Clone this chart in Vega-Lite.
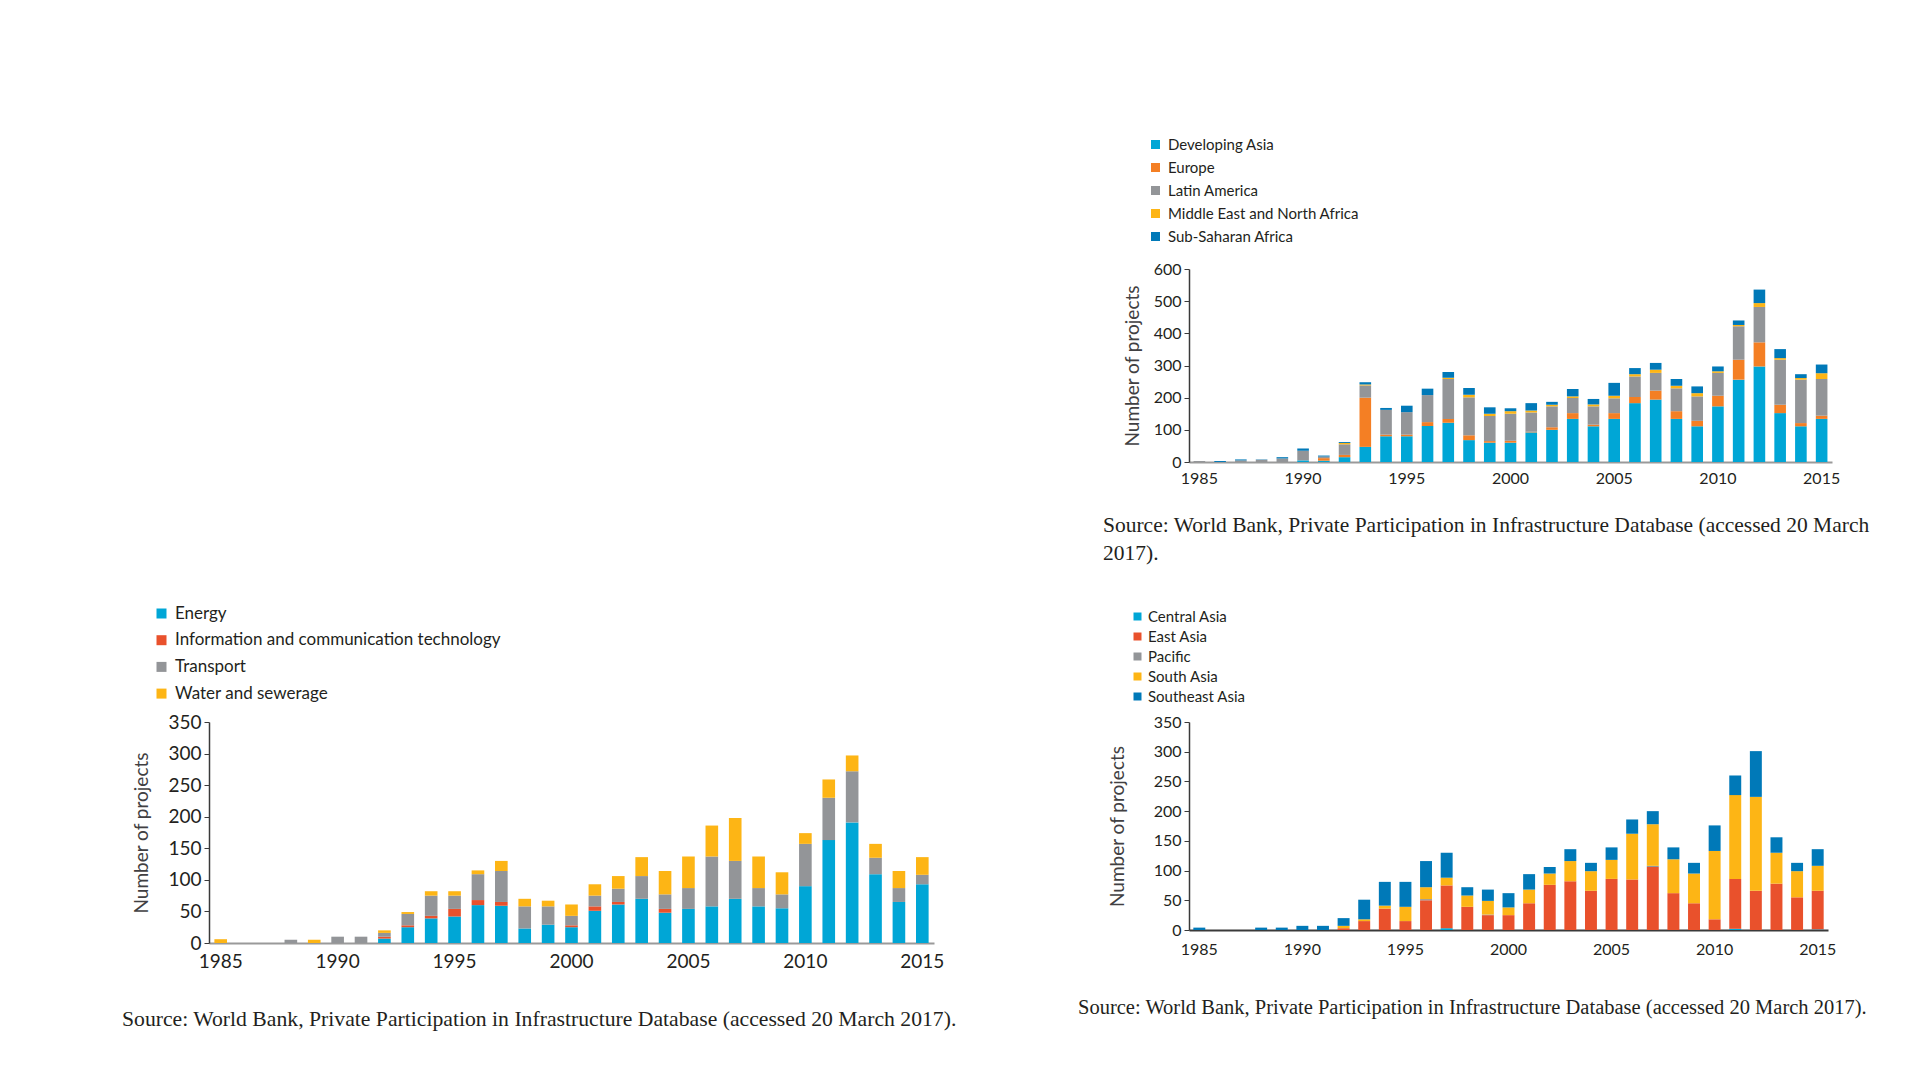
{
"$schema": "https://vega.github.io/schema/vega-lite/v6.json",
"background": "white",
"padding": {"left": 122, "top": 137, "right": 10, "bottom": 10},
"datasets": {
"region": [
{"year":1985,"region":"Latin America","projects":3},
{"year":1986,"region":"Sub-Saharan Africa","projects":3},
{"year":1987,"region":"Latin America","projects":5},{"year":1987,"region":"Sub-Saharan Africa","projects":3},
{"year":1988,"region":"Latin America","projects":7},{"year":1988,"region":"Sub-Saharan Africa","projects":1},
{"year":1989,"region":"Latin America","projects":11},{"year":1989,"region":"Sub-Saharan Africa","projects":4},
{"year":1990,"region":"Developing Asia","projects":5},{"year":1990,"region":"Latin America","projects":30},{"year":1990,"region":"Sub-Saharan Africa","projects":7},
{"year":1991,"region":"Developing Asia","projects":4},{"year":1991,"region":"Europe","projects":8},{"year":1991,"region":"Latin America","projects":5},{"year":1991,"region":"Sub-Saharan Africa","projects":3},
{"year":1992,"region":"Developing Asia","projects":15},{"year":1992,"region":"Europe","projects":7},{"year":1992,"region":"Latin America","projects":33},{"year":1992,"region":"Middle East and North Africa","projects":4},{"year":1992,"region":"Sub-Saharan Africa","projects":3},
{"year":1993,"region":"Developing Asia","projects":47},{"year":1993,"region":"Europe","projects":153},{"year":1993,"region":"Latin America","projects":38},{"year":1993,"region":"Middle East and North Africa","projects":3},{"year":1993,"region":"Sub-Saharan Africa","projects":7},
{"year":1994,"region":"Developing Asia","projects":80},{"year":1994,"region":"Europe","projects":5},{"year":1994,"region":"Latin America","projects":77},{"year":1994,"region":"Sub-Saharan Africa","projects":6},
{"year":1995,"region":"Developing Asia","projects":80},{"year":1995,"region":"Europe","projects":5},{"year":1995,"region":"Latin America","projects":70},{"year":1995,"region":"Sub-Saharan Africa","projects":20},
{"year":1996,"region":"Developing Asia","projects":112},{"year":1996,"region":"Europe","projects":12},{"year":1996,"region":"Latin America","projects":84},{"year":1996,"region":"Sub-Saharan Africa","projects":20},
{"year":1997,"region":"Developing Asia","projects":122},{"year":1997,"region":"Europe","projects":12},{"year":1997,"region":"Latin America","projects":124},{"year":1997,"region":"Middle East and North Africa","projects":4},{"year":1997,"region":"Sub-Saharan Africa","projects":18},
{"year":1998,"region":"Developing Asia","projects":68},{"year":1998,"region":"Europe","projects":15},{"year":1998,"region":"Latin America","projects":118},{"year":1998,"region":"Middle East and North Africa","projects":8},{"year":1998,"region":"Sub-Saharan Africa","projects":21},
{"year":1999,"region":"Developing Asia","projects":60},{"year":1999,"region":"Europe","projects":5},{"year":1999,"region":"Latin America","projects":78},{"year":1999,"region":"Middle East and North Africa","projects":7},{"year":1999,"region":"Sub-Saharan Africa","projects":20},
{"year":2000,"region":"Developing Asia","projects":60},{"year":2000,"region":"Europe","projects":6},{"year":2000,"region":"Latin America","projects":84},{"year":2000,"region":"Middle East and North Africa","projects":8},{"year":2000,"region":"Sub-Saharan Africa","projects":9},
{"year":2001,"region":"Developing Asia","projects":92},{"year":2001,"region":"Europe","projects":2},{"year":2001,"region":"Latin America","projects":60},{"year":2001,"region":"Middle East and North Africa","projects":6},{"year":2001,"region":"Sub-Saharan Africa","projects":23},
{"year":2002,"region":"Developing Asia","projects":100},{"year":2002,"region":"Europe","projects":8},{"year":2002,"region":"Latin America","projects":65},{"year":2002,"region":"Middle East and North Africa","projects":5},{"year":2002,"region":"Sub-Saharan Africa","projects":9},
{"year":2003,"region":"Developing Asia","projects":134},{"year":2003,"region":"Europe","projects":18},{"year":2003,"region":"Latin America","projects":47},{"year":2003,"region":"Middle East and North Africa","projects":5},{"year":2003,"region":"Sub-Saharan Africa","projects":23},
{"year":2004,"region":"Developing Asia","projects":111},{"year":2004,"region":"Europe","projects":5},{"year":2004,"region":"Latin America","projects":57},{"year":2004,"region":"Middle East and North Africa","projects":6},{"year":2004,"region":"Sub-Saharan Africa","projects":17},
{"year":2005,"region":"Developing Asia","projects":134},{"year":2005,"region":"Europe","projects":18},{"year":2005,"region":"Latin America","projects":46},{"year":2005,"region":"Middle East and North Africa","projects":8},{"year":2005,"region":"Sub-Saharan Africa","projects":40},
{"year":2006,"region":"Developing Asia","projects":183},{"year":2006,"region":"Europe","projects":19},{"year":2006,"region":"Latin America","projects":64},{"year":2006,"region":"Middle East and North Africa","projects":7},{"year":2006,"region":"Sub-Saharan Africa","projects":19},
{"year":2007,"region":"Developing Asia","projects":194},{"year":2007,"region":"Europe","projects":28},{"year":2007,"region":"Latin America","projects":55},{"year":2007,"region":"Middle East and North Africa","projects":10},{"year":2007,"region":"Sub-Saharan Africa","projects":21},
{"year":2008,"region":"Developing Asia","projects":134},{"year":2008,"region":"Europe","projects":24},{"year":2008,"region":"Latin America","projects":71},{"year":2008,"region":"Middle East and North Africa","projects":8},{"year":2008,"region":"Sub-Saharan Africa","projects":21},
{"year":2009,"region":"Developing Asia","projects":111},{"year":2009,"region":"Europe","projects":17},{"year":2009,"region":"Latin America","projects":76},{"year":2009,"region":"Middle East and North Africa","projects":10},{"year":2009,"region":"Sub-Saharan Africa","projects":21},
{"year":2010,"region":"Developing Asia","projects":173},{"year":2010,"region":"Europe","projects":33},{"year":2010,"region":"Latin America","projects":71},{"year":2010,"region":"Middle East and North Africa","projects":5},{"year":2010,"region":"Sub-Saharan Africa","projects":15},
{"year":2011,"region":"Developing Asia","projects":256},{"year":2011,"region":"Europe","projects":62},{"year":2011,"region":"Latin America","projects":104},{"year":2011,"region":"Middle East and North Africa","projects":4},{"year":2011,"region":"Sub-Saharan Africa","projects":14},
{"year":2012,"region":"Developing Asia","projects":297},{"year":2012,"region":"Europe","projects":75},{"year":2012,"region":"Latin America","projects":110},{"year":2012,"region":"Middle East and North Africa","projects":12},{"year":2012,"region":"Sub-Saharan Africa","projects":42},
{"year":2013,"region":"Developing Asia","projects":152},{"year":2013,"region":"Europe","projects":26},{"year":2013,"region":"Latin America","projects":140},{"year":2013,"region":"Middle East and North Africa","projects":5},{"year":2013,"region":"Sub-Saharan Africa","projects":28},
{"year":2014,"region":"Developing Asia","projects":111},{"year":2014,"region":"Europe","projects":10},{"year":2014,"region":"Latin America","projects":135},{"year":2014,"region":"Middle East and North Africa","projects":5},{"year":2014,"region":"Sub-Saharan Africa","projects":12},
{"year":2015,"region":"Developing Asia","projects":134},{"year":2015,"region":"Europe","projects":10},{"year":2015,"region":"Latin America","projects":114},{"year":2015,"region":"Middle East and North Africa","projects":18},{"year":2015,"region":"Sub-Saharan Africa","projects":27}
],
"sector": [
{"year":1985,"sector":"Water and sewerage","projects":6},
{"year":1988,"sector":"Transport","projects":5},
{"year":1989,"sector":"Water and sewerage","projects":5},
{"year":1990,"sector":"Transport","projects":10},
{"year":1991,"sector":"Transport","projects":10},
{"year":1992,"sector":"Energy","projects":7},{"year":1992,"sector":"Information and communication technology","projects":3},{"year":1992,"sector":"Transport","projects":6},{"year":1992,"sector":"Water and sewerage","projects":4},
{"year":1993,"sector":"Energy","projects":25},{"year":1993,"sector":"Information and communication technology","projects":3},{"year":1993,"sector":"Transport","projects":18},{"year":1993,"sector":"Water and sewerage","projects":3},
{"year":1994,"sector":"Energy","projects":39},{"year":1994,"sector":"Information and communication technology","projects":4},{"year":1994,"sector":"Transport","projects":32},{"year":1994,"sector":"Water and sewerage","projects":7},
{"year":1995,"sector":"Energy","projects":42},{"year":1995,"sector":"Information and communication technology","projects":12},{"year":1995,"sector":"Transport","projects":21},{"year":1995,"sector":"Water and sewerage","projects":7},
{"year":1996,"sector":"Energy","projects":60},{"year":1996,"sector":"Information and communication technology","projects":8},{"year":1996,"sector":"Transport","projects":41},{"year":1996,"sector":"Water and sewerage","projects":6},
{"year":1997,"sector":"Energy","projects":59},{"year":1997,"sector":"Information and communication technology","projects":6},{"year":1997,"sector":"Transport","projects":49},{"year":1997,"sector":"Water and sewerage","projects":16},
{"year":1998,"sector":"Energy","projects":23},{"year":1998,"sector":"Transport","projects":35},{"year":1998,"sector":"Water and sewerage","projects":12},
{"year":1999,"sector":"Energy","projects":29},{"year":1999,"sector":"Transport","projects":29},{"year":1999,"sector":"Water and sewerage","projects":9},
{"year":2000,"sector":"Energy","projects":25},{"year":2000,"sector":"Information and communication technology","projects":3},{"year":2000,"sector":"Transport","projects":15},{"year":2000,"sector":"Water and sewerage","projects":18},
{"year":2001,"sector":"Energy","projects":51},{"year":2001,"sector":"Information and communication technology","projects":7},{"year":2001,"sector":"Transport","projects":17},{"year":2001,"sector":"Water and sewerage","projects":18},
{"year":2002,"sector":"Energy","projects":61},{"year":2002,"sector":"Information and communication technology","projects":4},{"year":2002,"sector":"Transport","projects":21},{"year":2002,"sector":"Water and sewerage","projects":20},
{"year":2003,"sector":"Energy","projects":70},{"year":2003,"sector":"Transport","projects":36},{"year":2003,"sector":"Water and sewerage","projects":30},
{"year":2004,"sector":"Energy","projects":48},{"year":2004,"sector":"Information and communication technology","projects":6},{"year":2004,"sector":"Transport","projects":23},{"year":2004,"sector":"Water and sewerage","projects":37},
{"year":2005,"sector":"Energy","projects":54},{"year":2005,"sector":"Transport","projects":33},{"year":2005,"sector":"Water and sewerage","projects":50},
{"year":2006,"sector":"Energy","projects":58},{"year":2006,"sector":"Transport","projects":79},{"year":2006,"sector":"Water and sewerage","projects":49},
{"year":2007,"sector":"Energy","projects":70},{"year":2007,"sector":"Transport","projects":60},{"year":2007,"sector":"Water and sewerage","projects":68},
{"year":2008,"sector":"Energy","projects":58},{"year":2008,"sector":"Transport","projects":29},{"year":2008,"sector":"Water and sewerage","projects":50},
{"year":2009,"sector":"Energy","projects":55},{"year":2009,"sector":"Transport","projects":22},{"year":2009,"sector":"Water and sewerage","projects":35},
{"year":2010,"sector":"Energy","projects":90},{"year":2010,"sector":"Transport","projects":67},{"year":2010,"sector":"Water and sewerage","projects":17},
{"year":2011,"sector":"Energy","projects":163},{"year":2011,"sector":"Transport","projects":67},{"year":2011,"sector":"Water and sewerage","projects":29},
{"year":2012,"sector":"Energy","projects":191},{"year":2012,"sector":"Transport","projects":81},{"year":2012,"sector":"Water and sewerage","projects":25},
{"year":2013,"sector":"Energy","projects":109},{"year":2013,"sector":"Transport","projects":26},{"year":2013,"sector":"Water and sewerage","projects":22},
{"year":2014,"sector":"Energy","projects":65},{"year":2014,"sector":"Transport","projects":22},{"year":2014,"sector":"Water and sewerage","projects":27},
{"year":2015,"sector":"Energy","projects":93},{"year":2015,"sector":"Transport","projects":15},{"year":2015,"sector":"Water and sewerage","projects":28}
],
"asia": [
{"year":1985,"subregion":"Southeast Asia","projects":4},
{"year":1988,"subregion":"Southeast Asia","projects":4},
{"year":1989,"subregion":"Southeast Asia","projects":4},
{"year":1990,"subregion":"Southeast Asia","projects":7},
{"year":1991,"subregion":"Southeast Asia","projects":7},
{"year":1992,"subregion":"East Asia","projects":3},{"year":1992,"subregion":"South Asia","projects":4},{"year":1992,"subregion":"Southeast Asia","projects":13},
{"year":1993,"subregion":"East Asia","projects":15},{"year":1993,"subregion":"South Asia","projects":3},{"year":1993,"subregion":"Southeast Asia","projects":33},
{"year":1994,"subregion":"East Asia","projects":36},{"year":1994,"subregion":"South Asia","projects":5},{"year":1994,"subregion":"Southeast Asia","projects":40},
{"year":1995,"subregion":"East Asia","projects":15},{"year":1995,"subregion":"South Asia","projects":24},{"year":1995,"subregion":"Southeast Asia","projects":42},
{"year":1996,"subregion":"East Asia","projects":50},{"year":1996,"subregion":"Pacific","projects":2},{"year":1996,"subregion":"South Asia","projects":20},{"year":1996,"subregion":"Southeast Asia","projects":44},
{"year":1997,"subregion":"Central Asia","projects":3},{"year":1997,"subregion":"East Asia","projects":72},{"year":1997,"subregion":"South Asia","projects":13},{"year":1997,"subregion":"Southeast Asia","projects":42},
{"year":1998,"subregion":"East Asia","projects":39},{"year":1998,"subregion":"South Asia","projects":19},{"year":1998,"subregion":"Southeast Asia","projects":14},
{"year":1999,"subregion":"East Asia","projects":25},{"year":1999,"subregion":"Pacific","projects":1},{"year":1999,"subregion":"South Asia","projects":23},{"year":1999,"subregion":"Southeast Asia","projects":19},
{"year":2000,"subregion":"East Asia","projects":25},{"year":2000,"subregion":"South Asia","projects":13},{"year":2000,"subregion":"Southeast Asia","projects":24},
{"year":2001,"subregion":"East Asia","projects":45},{"year":2001,"subregion":"South Asia","projects":23},{"year":2001,"subregion":"Southeast Asia","projects":26},
{"year":2002,"subregion":"East Asia","projects":76},{"year":2002,"subregion":"South Asia","projects":19},{"year":2002,"subregion":"Southeast Asia","projects":11},
{"year":2003,"subregion":"East Asia","projects":82},{"year":2003,"subregion":"South Asia","projects":34},{"year":2003,"subregion":"Southeast Asia","projects":20},
{"year":2004,"subregion":"East Asia","projects":66},{"year":2004,"subregion":"South Asia","projects":33},{"year":2004,"subregion":"Southeast Asia","projects":14},
{"year":2005,"subregion":"East Asia","projects":86},{"year":2005,"subregion":"South Asia","projects":32},{"year":2005,"subregion":"Southeast Asia","projects":21},
{"year":2006,"subregion":"East Asia","projects":85},{"year":2006,"subregion":"South Asia","projects":77},{"year":2006,"subregion":"Southeast Asia","projects":24},
{"year":2007,"subregion":"East Asia","projects":106},{"year":2007,"subregion":"Pacific","projects":2},{"year":2007,"subregion":"South Asia","projects":70},{"year":2007,"subregion":"Southeast Asia","projects":22},
{"year":2008,"subregion":"East Asia","projects":62},{"year":2008,"subregion":"South Asia","projects":57},{"year":2008,"subregion":"Southeast Asia","projects":20},
{"year":2009,"subregion":"East Asia","projects":45},{"year":2009,"subregion":"South Asia","projects":50},{"year":2009,"subregion":"Southeast Asia","projects":18},
{"year":2010,"subregion":"East Asia","projects":18},{"year":2010,"subregion":"South Asia","projects":115},{"year":2010,"subregion":"Southeast Asia","projects":43},
{"year":2011,"subregion":"Central Asia","projects":2},{"year":2011,"subregion":"East Asia","projects":84},{"year":2011,"subregion":"South Asia","projects":141},{"year":2011,"subregion":"Southeast Asia","projects":33},
{"year":2012,"subregion":"East Asia","projects":66},{"year":2012,"subregion":"South Asia","projects":158},{"year":2012,"subregion":"Southeast Asia","projects":77},
{"year":2013,"subregion":"East Asia","projects":78},{"year":2013,"subregion":"South Asia","projects":52},{"year":2013,"subregion":"Southeast Asia","projects":26},
{"year":2014,"subregion":"East Asia","projects":55},{"year":2014,"subregion":"South Asia","projects":44},{"year":2014,"subregion":"Southeast Asia","projects":14},
{"year":2015,"subregion":"Central Asia","projects":1},{"year":2015,"subregion":"East Asia","projects":65},{"year":2015,"subregion":"South Asia","projects":42},{"year":2015,"subregion":"Southeast Asia","projects":28}
]
},
"columns": 2,
"spacing": {"row": 232, "column": 255},
"bounds": "flush",
"align": "all",
"resolve": {"scale": {"color": "independent", "x": "independent", "y": "independent"}, "legend": {"color": "independent"}, "axis": {"x": "independent", "y": "independent"}},
"concat": [
{
"data": {"values": [{"blank": 1}]},
"width": 10, "height": 10,
"mark": {"type": "point", "opacity": 0},
"encoding": {}
},
{
"data": {"name": "region"},
"width": 643, "height": 193,
"title": {"text": ["Source: World Bank, Private Participation in Infrastructure Database (accessed 20 March", "2017)."], "orient": "bottom", "anchor": "start", "frame": "group", "dx": -86, "offset": 29, "baseline": "top", "font": "Liberation Serif", "fontSize": 21.5, "fontWeight": "normal", "color": "#231f20", "lineHeight": 28},
"mark": {"type": "bar"},
"encoding": {
"x": {"field": "year", "type": "ordinal", "scale": {"domain": [1985,1986,1987,1988,1989,1990,1991,1992,1993,1994,1995,1996,1997,1998,1999,2000,2001,2002,2003,2004,2005,2006,2007,2008,2009,2010,2011,2012,2013,2014,2015], "paddingInner": 0.44, "paddingOuter": 0.22}, "axis": {"values": [1985,1990,1995,2000,2005,2010,2015], "title": null, "labelAngle": 0, "ticks": false, "labelFontSize": 16, "labelPadding": 8, "domainColor": "#9a9a9a", "domainWidth": 2}},
"y": {"field": "projects", "type": "quantitative", "stack": "zero", "scale": {"domain": [0, 600], "nice": false}, "axis": {"values": [0,100,200,300,400,500,600], "title": "Number of projects", "labelFontSize": 16, "titleFontSize": 19, "titlePadding": 11}},
"order": {"field": "region", "sort": "ascending"},
"color": {"field": "region", "type": "nominal", "scale": {"domain": ["Developing Asia","Europe","Latin America","Middle East and North Africa","Sub-Saharan Africa"], "range": ["#00a6d6","#f47f24","#939598","#fdb515","#0079b8"]}, "legend": {"orient": "none", "legendX": -41, "legendY": -132, "title": null, "labelFontSize": 15, "symbolType": "square", "symbolSize": 81, "symbolStrokeWidth": 0, "rowPadding": 7, "padding": 0, "labelOffset": 5}}
}
},
{
"data": {"name": "sector"},
"width": 725, "height": 221,
"title": {"text": "Source: World Bank, Private Participation in Infrastructure Database (accessed 20 March 2017).", "orient": "bottom", "anchor": "start", "frame": "group", "dx": -87, "offset": 38, "baseline": "top", "font": "Liberation Serif", "fontSize": 21.7, "fontWeight": "normal", "color": "#231f20"},
"mark": {"type": "bar"},
"encoding": {
"x": {"field": "year", "type": "ordinal", "scale": {"domain": [1985,1986,1987,1988,1989,1990,1991,1992,1993,1994,1995,1996,1997,1998,1999,2000,2001,2002,2003,2004,2005,2006,2007,2008,2009,2010,2011,2012,2013,2014,2015], "paddingInner": 0.46, "paddingOuter": 0.23}, "axis": {"values": [1985,1990,1995,2000,2005,2010,2015], "title": null, "labelAngle": 0, "ticks": false, "labelFontSize": 19, "labelPadding": 9, "domainColor": "#9a9a9a", "domainWidth": 2}},
"y": {"field": "projects", "type": "quantitative", "stack": "zero", "scale": {"domain": [0, 350], "nice": false}, "axis": {"values": [0,50,100,150,200,250,300,350], "title": "Number of projects", "labelFontSize": 19, "titleFontSize": 19, "titlePadding": 16}},
"order": {"field": "sector", "sort": "ascending"},
"color": {"field": "sector", "type": "nominal", "scale": {"domain": ["Energy","Information and communication technology","Transport","Water and sewerage"], "range": ["#00a6d6","#e9512c","#939598","#fdb515"]}, "legend": {"orient": "none", "legendX": -56, "legendY": -117, "title": null, "labelFontSize": 17, "symbolType": "square", "symbolSize": 100, "symbolStrokeWidth": 0, "rowPadding": 8.7, "padding": 0, "labelOffset": 5}}
}
},
{
"data": {"name": "asia"},
"width": 639, "height": 208,
"title": {"text": "Source: World Bank, Private Participation in Infrastructure Database (accessed 20 March 2017).", "orient": "bottom", "anchor": "start", "frame": "group", "dx": -111, "offset": 41, "baseline": "top", "font": "Liberation Serif", "fontSize": 20.5, "fontWeight": "normal", "color": "#231f20"},
"mark": {"type": "bar"},
"encoding": {
"x": {"field": "year", "type": "ordinal", "scale": {"domain": [1985,1986,1987,1988,1989,1990,1991,1992,1993,1994,1995,1996,1997,1998,1999,2000,2001,2002,2003,2004,2005,2006,2007,2008,2009,2010,2011,2012,2013,2014,2015], "paddingInner": 0.42, "paddingOuter": 0.21}, "axis": {"values": [1985,1990,1995,2000,2005,2010,2015], "title": null, "labelAngle": 0, "ticks": false, "labelFontSize": 16, "labelPadding": 11, "domainColor": "#3a3a3a", "domainWidth": 2}},
"y": {"field": "projects", "type": "quantitative", "stack": "zero", "scale": {"domain": [0, 350], "nice": false}, "axis": {"values": [0,50,100,150,200,250,300,350], "title": "Number of projects", "labelFontSize": 16, "titleFontSize": 19, "titlePadding": 26}},
"order": {"field": "subregion", "sort": "ascending"},
"color": {"field": "subregion", "type": "nominal", "scale": {"domain": ["Central Asia","East Asia","Pacific","South Asia","Southeast Asia"], "range": ["#00a6d6","#e9512c","#939598","#fdb515","#0079b8"]}, "legend": {"orient": "none", "legendX": -59, "legendY": -113, "title": null, "labelFontSize": 15, "symbolType": "square", "symbolSize": 64, "symbolStrokeWidth": 0, "rowPadding": 4, "padding": 0, "labelOffset": 3}}
}
}
],
"config": {
"view": {"stroke": null},
"font": "Lato",
"axis": {"grid": false, "domainColor": "#3a3a3a", "domainWidth": 1.5, "tickColor": "#3a3a3a", "tickSize": 5, "labelPadding": 3, "labelColor": "#231f20", "titleColor": "#414042", "labelFont": "Lato", "titleFont": "Lato", "titleFontWeight": "normal"},
"legend": {"labelFont": "Lato", "labelColor": "#231f20", "labelLimit": 500}
}
}
